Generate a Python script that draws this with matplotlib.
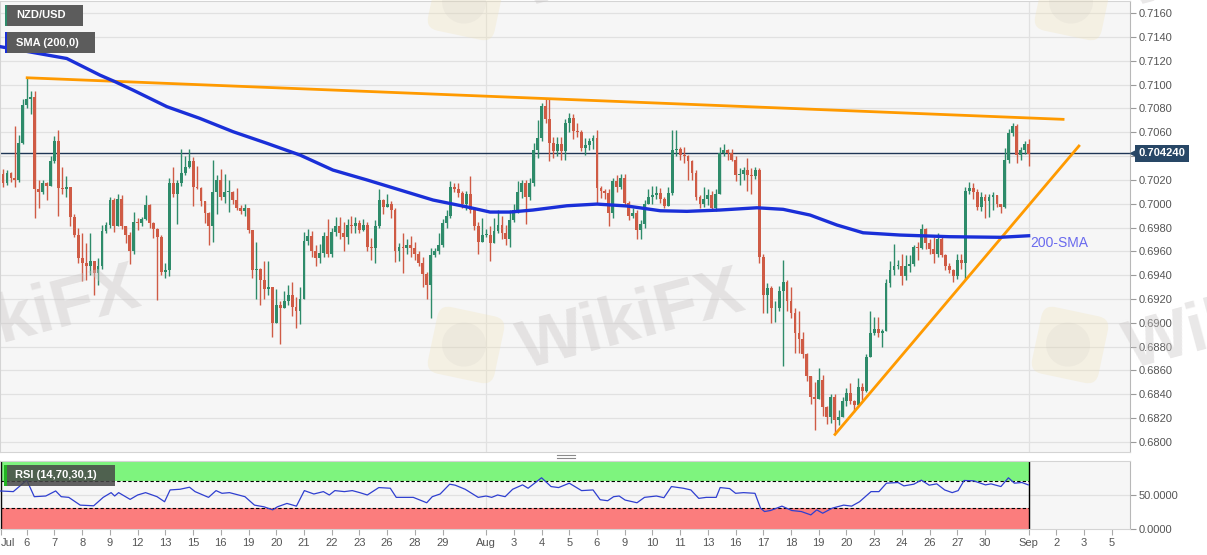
import numpy as np
import matplotlib
matplotlib.use("Agg")
import matplotlib.pyplot as plt
from matplotlib.patches import Rectangle, FancyBboxPatch, Circle
from matplotlib.lines import Line2D
from matplotlib.transforms import Affine2D, blended_transform_factory

plt.rcParams["font.family"] = ["Liberation Sans", "DejaVu Sans"]

W, H = 1207, 555
BASE = 0.7000   # all prices below are pips away from 0.7000

# ---- NZD/USD 4H candles, Jul 5 - Sep 1 (close / high / low in pips) ----
first_open = 25
closes = [17, 26, 22, 20, 51, 83, 88, 90, 12, 10, 17, 15, 36, 53, 13, 12, 14, -11, -26, -46,
          -50, -52, -48, -58, -52, -23, -18, 3, -19, 4, -19, -26, -40, -15, -16, -13, -1, -16, -21, -28,
          -57, -56, 17, 8, 17, 26, 31, 36, 14, 13, 2, -8, -19, 10, 20, 6, 10, 10, 3, -4,
          -6, -4, -22, -56, -55, -64, -72, -70, -100, -85, -88, -82, -77, -87, -90, -80, -31, -27, -40, -46,
          -41, -27, -42, -24, -19, -25, -28, -18, -19, -16, -22, -18, -36, -37, -19, 3, -3, 0, -5, -40,
          -36, -37, -35, -37, -42, -50, -59, -68, -43, -40, -35, -16, -10, 14, 12, 9, 0, 8, -5, -19,
          -32, -26, -26, -33, -23, -18, -25, -30, -14, -5, 10, 17, 6, 17, 45, 55, 82, 71, 51, 44,
          50, 44, 68, 72, 61, 60, 47, 49, 53, 55, 13, 11, 9, -8, 19, 14, 22, 1, -10, -8,
          -22, -17, 0, 6, 7, 9, 4, -2, 9, 45, 46, 41, 40, 36, 26, 6, 0, 4, 7, -4,
          8, 43, 45, 43, 37, 24, 25, 28, 24, 23, 28, -45, -77, -71, -88, -88, -73, -66, -82, -92,
          -109, -114, -126, -145, -162, -164, -148, -171, -179, -162, -182, -179, -166, -159, -166, -169, -154, -157, -129, -109,
          -105, -109, -107, -67, -56, -52, -52, -61, -52, -51, -36, -37, -21, -33, -38, -42, -30, -43, -52, -56,
          -61, -47, -50, 11, 13, 10, -3, 6, 2, 6, 7, 0, -3, 37, 59, 65, 41, 45, 50, 42]
highs = [29, 28, 27, 65, 58, 88, 106, 95, 95, 20, 20, 18, 40, 57, 62, 31, 23, 14, -9, -20,
         -25, -33, -25, -48, -46, -18, -15, 6, 5, 8, 7, -20, -24, -7, -12, -11, 7, 0, -15, -20,
         -26, -50, 22, 31, 20, 46, 40, 46, 39, 32, 14, 2, -7, 37, 24, 29, 25, 20, 11, 13,
         -1, 0, -6, -25, -32, -54, -48, -48, -72, -72, -82, -73, -68, -66, -78, -70, -24, -21, -23, -35,
         -34, -24, -13, -20, -11, -11, -15, -13, -10, -11, -14, -13, -15, -29, -14, 12, 4, 8, 2, -4,
         -33, -25, -30, -27, -32, -40, -45, -57, -37, -37, -25, -13, -5, 19, 17, 17, 11, 11, 23, -3,
         -15, -12, -21, -19, -12, -5, -10, -18, -5, 0, 19, 20, 20, 22, 51, 70, 85, 88, 88, 56,
         56, 56, 71, 76, 75, 68, 62, 55, 55, 58, 62, 15, 12, 12, 22, 24, 25, 25, 2, -4,
         -5, -14, 3, 12, 15, 15, 13, 6, 14, 62, 62, 48, 48, 41, 37, 28, 7, 14, 12, 11,
         12, 48, 50, 46, 46, 40, 30, 31, 38, 30, 31, 30, -42, -67, -69, -82, -69, -47, -64, -70,
         -88, -90, -108, -125, -145, -150, -138, -144, -170, -160, -160, -173, -162, -155, -151, -165, -146, -151, -126, -90,
         -95, -95, -105, -63, -48, -34, -47, -42, -43, -43, -35, -32, -17, -20, -30, -28, -25, -26, -42, -50,
         -55, -42, -42, 14, 18, 17, 12, 10, 8, 8, 10, 7, 0, 47, 63, 68, 67, 48, 53, 54]
lows = [14, 16, 18, 14, 18, 50, 80, 75, -12, -4, 8, 3, 15, 34, -10, 8, 6, -19, -28, -50,
        -65, -64, -60, -77, -68, -55, -25, -20, -24, -18, -21, -33, -51, -42, -22, -19, -14, -20, -29, -81,
        -60, -62, -61, 6, -17, 15, 24, 30, -2, 12, -2, -16, -35, -32, -9, 3, 1, -7, 0, -5,
        -9, -10, -25, -62, -80, -85, -80, -77, -112, -100, -118, -88, -85, -94, -104, -101, -80, -35, -45, -52,
        -50, -45, -45, -45, -27, -30, -40, -34, -25, -25, -25, -23, -40, -47, -50, -20, -9, -3, -12, -49,
        -48, -58, -42, -45, -47, -52, -70, -80, -96, -45, -42, -36, -20, -12, 10, 6, -4, -5, -8, -22,
        -42, -30, -28, -48, -33, -25, -30, -35, -36, -15, -8, 5, -17, 3, 15, 38, 53, 68, 36, 38,
        40, 37, 37, 60, 54, 56, 44, 41, 45, 46, 1, 5, 4, -19, -12, 10, 12, -1, -14, -12,
        -30, -30, -20, 0, 0, 4, 1, -4, -2, 7, 40, 37, 34, 20, 20, 3, -4, -3, -1, -5,
        -6, 8, 40, 37, 36, 19, 16, 20, 11, 8, 21, -50, -92, -92, -100, -99, -90, -136, -90, -96,
        -125, -125, -130, -149, -168, -190, -163, -178, -185, -184, -193, -186, -176, -170, -168, -175, -170, -165, -158, -120,
        -110, -112, -120, -107, -70, -60, -55, -68, -64, -57, -52, -47, -38, -38, -42, -50, -45, -45, -56, -58,
        -66, -63, -55, -63, 8, 4, -5, -6, -12, -11, -5, -3, -8, -4, 34, 57, 34, 37, 42, 32]
last_price = 42.4

# 200-period SMA (candle index, pips)
sma_at = [-0.8, 16.1, 19.4, 24.5, 28.3, 32.8, 41.4, 49.7, 58.1, 66.7, 75, 83.3, 92, 100.3, 108.6, 117.2, 123,
          128, 133.8, 142.4, 150, 157.6, 166, 172.7, 181, 190.4, 197, 203.8, 210.6, 217.2, 226.5, 239, 251.8, 259]
sma_pips = [132, 122, 116.5, 108, 102.5, 95.5, 81.5, 71.7, 60.5, 50.7, 40.9, 28.3, 19.9, 11.5, 3.1, -2.7, -7,
            -7, -5.3, -1.7, -0.3, -1.9, -5.9, -6.4, -5.3, -3.4, -4.7, -9.5, -17.9, -24.4, -26.3, -27.7, -28.2, -26.9]

# trend lines
upper_at, upper_pips = [6.1, 267.7], [105.8, 70.9]
lower_at, lower_pips = [210.1, 271.7], [-193.8, 48.5]

# RSI(14)
rsi_at = [-0.8, 2.6, 6, 7.9, 10.8, 13.3, 14.7, 16.6, 19.5, 22.9, 25.3, 27.3, 28.2, 29.2, 32.1, 34, 36, 38.9, 40.8, 42.2,
          44.7, 47.1, 48.5, 51.9, 53.8, 55.3, 57.2, 61.1, 63.5, 65.9, 68.1, 69.3, 71.7, 74.1, 76.1, 78.5, 80.9, 82.4, 83.8, 86.2,
          88.2, 90.1, 92, 94.9, 97.8, 99.3, 103.6, 107, 108.4, 110.4, 112.8, 114.2, 116.7, 120, 122, 123.4, 124.9, 126.8, 128.7, 131.2,
          132.6, 136, 138.4, 140.3, 143, 146.1, 149, 150.8, 152.7, 154.2, 155.6, 157.1, 160.1, 162, 165, 166.9, 168.8, 171.8, 173.7, 175.7,
          177.6, 180.1, 181.1, 183.5, 185, 187, 189.9, 191.3, 192.3, 193.8, 196.7, 199.2, 201.6, 204, 205.5, 207, 209.4, 212.3, 214.3, 216.3,
          219.2, 221.2, 223.1, 226, 227.5, 230, 231.9, 233.9, 235.8, 237.8, 239.7, 241.2, 242.7, 245.1, 248.1, 249.5, 252, 253.9, 255.4, 257.3,
          258.9]
rsi_val = [56, 55, 72, 47.5, 48.5, 56, 47.5, 46.5, 35, 34, 46.5, 53.5, 48.5, 53.5, 43.5, 50, 53.5, 47.5, 40, 57.5,
           58.5, 61.5, 55, 46.5, 56.5, 52.5, 53.5, 47.5, 35, 32.5, 28, 32.5, 37.5, 33.5, 56.5, 51.5, 55, 50, 56.5, 55,
           56.5, 53.5, 50, 61, 60, 46.5, 46.5, 38.5, 47.5, 51.5, 66, 64.5, 58.5, 46.5, 48.5, 46.5, 50, 47.5, 58.5, 65,
           60, 75.5, 62.5, 61, 67.5, 56.5, 57.5, 43, 41.5, 47.5, 48.5, 42.5, 38.5, 46.5, 48.5, 46, 62.5, 60, 57.5, 45,
           46.5, 46.5, 61, 59.5, 52.5, 53.5, 52.5, 30.5, 25.5, 27, 33.5, 27, 25.5, 20.5, 28, 23, 30.5, 35, 33.5, 40,
           55, 55, 67.5, 68.5, 63.5, 66, 72, 64.5, 66.5, 57.5, 53.5, 56.5, 71.5, 71, 65, 66.5, 62.5, 75.5, 67.5, 68.5,
           65]

# date axis (candle index of each tick)
tick_at = [-0.5, 6, 13, 20, 27, 34, 41, 48, 55, 62, 69, 76, 83, 90, 97, 104, 111,
           122, 129, 136, 143, 150, 157, 164, 171, 178, 185, 192, 199, 206, 213, 220, 227, 234, 241, 248,
           259, 266, 273, 280]
tick_labels = ["Jul", "6", "7", "8", "9", "12", "13", "15", "16", "19", "20", "21", "22", "23", "26", "28", "29",
               "Aug", "3", "4", "5", "6", "9", "10", "11", "13", "16", "17", "18", "19", "20", "23", "24", "26", "27", "30",
               "Sep", "2", "3", "5"]
month_at = [122, 259]

assert len(closes) == len(highs) == len(lows) == 260
assert len(rsi_at) == len(rsi_val)


def price(p):
    return BASE + np.asarray(p, dtype=float) / 10000


def fx(x):
    return x / W


def fy(y):
    return 1 - y / H


GREEN = "#2e8b6a"
RED = "#cf5b45"
GRID = "#e1e1e1"
BG = "#f6f6f6"

fig = plt.figure(figsize=(W / 100, H / 100), dpi=100)
fig.patch.set_facecolor("white")
ax = fig.add_axes([0, fy(451.7), fx(1130), (451.7 - 1) / H])
ra = fig.add_axes([0, fy(528.75), fx(1130), (528.75 - 460.7) / H], sharex=ax)

for a in (ax, ra):
    a.set_facecolor(BG)
    for s in a.spines.values():
        s.set_color("#d4d4d4")
        s.set_linewidth(0.8)
    a.spines["right"].set_color("#b8b8b8")
    for m in month_at:
        a.axvline(m, color=GRID, lw=0.9, zorder=1)

# ---- price panel ----
n = len(closes)
xs = np.arange(n)
c = price(closes)
o = np.concatenate([[price(first_open)], c[:-1]])
hi = np.maximum(price(highs), np.maximum(o, c))
lo = np.minimum(price(lows), np.minimum(o, c))
cols = [GREEN if cc >= oo else RED for oo, cc in zip(o, c)]
ax.vlines(xs, lo, hi, colors=cols, lw=1, zorder=3)
ax.bar(xs, np.maximum(np.abs(c - o), 0.00003), bottom=np.minimum(o, c), width=0.72,
       color=cols, linewidth=0, zorder=4)

ax.axhline(price(last_price), color="#1f3656", lw=1, zorder=2.5)
ax.plot(upper_at, price(upper_pips), color="#ff9a00", lw=2, zorder=5)
ax.plot(lower_at, price(lower_pips), color="#ff9a00", lw=2, zorder=5)
ax.plot(sma_at, price(sma_pips), color="#1a2fd8", lw=2.4, zorder=5, solid_joinstyle="round")
ax.text(259.5, price(-33), "200-SMA", color="#6a6aee", fontsize=10, va="center", ha="left", zorder=6)

ax.set_xlim(-0.76, 284.6)
ax.set_ylim(price(-208.3), price(170.3))
yt = price(np.arange(-200, 161, 20))
ax.set_yticks(yt)
ax.set_yticklabels([f"{v:.4f}" for v in yt])
ax.yaxis.tick_right()
ax.tick_params(axis="y", right=True, left=False, length=4, width=0.8, color="#9a9a9a",
               labelcolor="#555555", labelsize=8, pad=2.5)
ax.tick_params(axis="x", bottom=False, labelbottom=False)
ax.grid(axis="y", color=GRID, lw=0.9)
ax.set_axisbelow(True)

bt = blended_transform_factory(ax.transAxes, ax.transData)
ax.plot([1.0025], [price(last_price)], marker="<", ms=5, color="#284766", transform=bt, clip_on=False, zorder=9)
ax.text(1.0075, price(last_price), "0.704240", transform=bt, ha="left", va="center", color="white",
        fontsize=8, fontweight="bold", zorder=10,
        bbox=dict(boxstyle="square,pad=0.3", fc="#284766", ec="none"))

# ---- RSI panel ----
x0 = -0.76
ra.set_ylim(0, 100.8)
ra.fill_between([x0, 259], 70, 100, color="#7ef47e", lw=0, zorder=1.5)
ra.fill_between([x0, 259], 0, 30, color="#fb7d7d", lw=0, zorder=1.5)
ra.axhline(50, color=GRID, lw=0.9, zorder=1)
ra.hlines([70, 30], x0, 259, colors="black", linestyles=(0, (3, 2)), lw=0.8, zorder=2)
ra.vlines([-0.55, 259], 0, 100, colors="black", lw=1, zorder=2)
ra.plot(rsi_at, rsi_val, color="#2f3fd0", lw=0.9, zorder=4)
ra.set_yticks([0, 50])
ra.set_yticklabels(["0.0000", "50.0000"])
ra.yaxis.tick_right()
ra.tick_params(axis="y", right=True, left=False, length=4, width=0.8, color="#9a9a9a",
               labelcolor="#555555", labelsize=8, pad=2.5)
ra.set_xticks(tick_at)
ra.set_xticklabels(tick_labels)
ra.get_xticklabels()[0].set_horizontalalignment("left")
ra.tick_params(axis="x", length=4, width=0.8, color="#aaaaaa", labelcolor="#555555", labelsize=8, pad=3)


# ---- overlay labels ----
def box(x_0, y_0, x_1, y_1, color, alpha=1.0, z=10):
    fig.add_artist(Rectangle((fx(x_0), fy(y_1)), fx(x_1) - fx(x_0), fy(y_0) - fy(y_1),
                             transform=fig.transFigure, facecolor=color, edgecolor="none",
                             alpha=alpha, zorder=z))


box(5, 5, 83, 26, "#5c5c5c")
box(5, 5, 7, 26, GREEN, z=11)
fig.text(fx(16), fy(15.5), "NZD/USD", color="white", fontsize=8, fontweight="bold", va="center", zorder=12)
box(5, 32, 95, 53, "#5c5c5c")
box(5, 32, 7, 53, "#1a2fd8", z=11)
fig.text(fx(16), fy(42.5), "SMA (200,0)", color="white", fontsize=8, fontweight="bold", va="center", zorder=12)
box(4, 465, 115, 486, "#474747", alpha=0.85)
box(4, 465, 7, 486, "#22b322", z=11)
fig.text(fx(15), fy(475.5), "RSI (14,70,30,1)", color="white", fontsize=8, fontweight="bold", va="center", zorder=12)

for yy in (455, 457.5):
    fig.add_artist(Line2D([fx(557), fx(575)], [fy(yy), fy(yy)], transform=fig.transFigure,
                          color="#8a8a8a", lw=0.8))

# ---- faint WikiFX watermarks ----
for tx, ty in [(28, 318), (632, 322), (1238, 322), (632, -40), (1238, -40)]:
    fig.text(fx(tx), fy(ty), "WikiFX", fontsize=50, fontweight="bold", color="#c9c5c5", alpha=0.4,
             rotation=15, ha="center", va="center", zorder=20)
for lx, ly in [(466, 345), (1070, 345), (466, 2), (1073, 2)]:
    cx, cy = lx / 100, (H - ly) / 100
    tr = Affine2D().rotate_deg_around(cx, cy, -12) + fig.dpi_scale_trans
    fig.add_artist(FancyBboxPatch((cx - 0.3, cy - 0.3), 0.6, 0.6,
                                  boxstyle="round,pad=0.04,rounding_size=0.12", transform=tr,
                                  fc="#f1e3b8", ec="none", alpha=0.3, zorder=19))
    fig.add_artist(Circle((cx - 0.02, cy), 0.22, transform=tr, fc="#bdb8b4", ec="none", alpha=0.12, zorder=19))

fig.savefig("out.png", dpi=100)
